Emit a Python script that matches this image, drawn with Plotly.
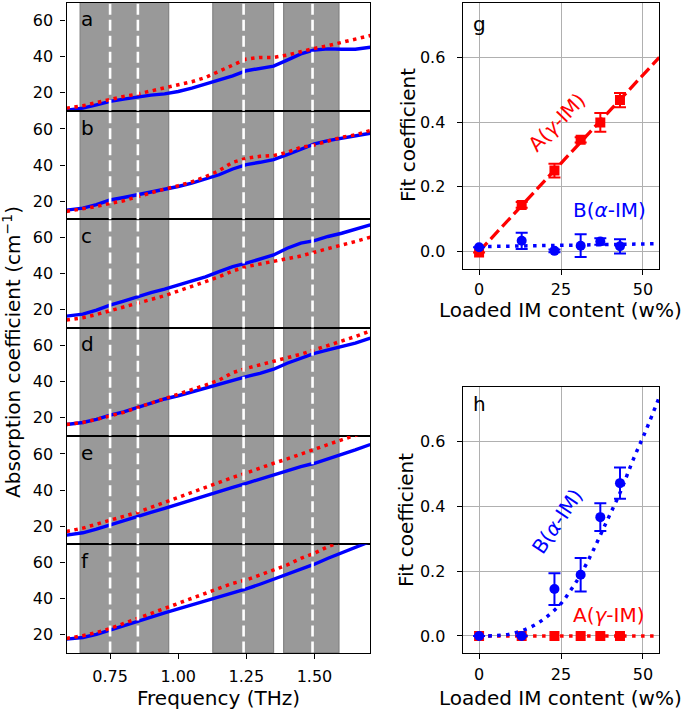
import plotly.graph_objects as go

W, H = 685, 710

# ---------------- data: left panels (absorption spectra) ----------------
freq = [0.59, 0.65, 0.70, 0.75, 0.80, 0.85, 0.90, 0.95, 1.00, 1.05, 1.10, 1.15,
        1.20, 1.25, 1.30, 1.35, 1.40, 1.45, 1.50, 1.55, 1.60, 1.65, 1.705]

a_meas = [10.4, 11.5, 13.3, 15.2, 16.5, 17.8, 18.7, 19.4, 20.7, 22.6, 24.8, 27.0,
          29.4, 32.2, 33.3, 34.8, 38.1, 41.5, 43.7, 44.3, 44.1, 44.1, 45.2]
a_model = [11.5, 12.8, 14.6, 16.5, 18.0, 19.3, 20.9, 22.6, 24.4, 26.1, 28.5, 31.9,
           35.4, 38.7, 39.6, 39.6, 40.9, 42.8, 44.6, 46.1, 48.0, 49.8, 51.7]
b_meas = [15.0, 16.1, 18.0, 20.6, 22.0, 23.5, 25.2, 26.7, 28.1, 30.0, 32.2, 34.6,
          37.8, 40.2, 41.5, 43.0, 45.7, 48.9, 51.7, 53.5, 54.8, 55.7, 57.6]
b_model = [14.3, 15.6, 17.0, 18.7, 20.2, 22.4, 24.8, 26.7, 28.5, 30.7, 33.5, 36.9,
           41.5, 43.7, 44.8, 45.2, 47.0, 49.8, 51.1, 53.5, 55.4, 56.7, 59.1]
c_meas = [16.3, 17.4, 19.6, 22.4, 24.6, 27.0, 29.3, 31.3, 33.5, 35.7, 38.1, 40.9,
          43.7, 45.6, 48.0, 50.2, 53.9, 56.7, 58.1, 60.4, 62.2, 64.4, 66.9]
c_model = [14.1, 15.4, 17.2, 19.3, 21.1, 23.3, 25.6, 27.6, 30.2, 32.6, 35.4, 38.1,
           41.3, 43.7, 45.2, 46.5, 48.3, 49.6, 51.7, 53.9, 55.7, 57.6, 60.0]
d_meas = [16.3, 17.4, 19.1, 21.5, 23.3, 25.7, 28.0, 30.4, 32.2, 34.4, 36.3, 38.5,
          40.9, 42.8, 44.6, 46.9, 50.2, 53.0, 55.7, 57.6, 59.4, 61.3, 64.1]
d_model = [16.3, 17.4, 19.1, 21.1, 23.0, 25.6, 28.0, 30.7, 32.9, 35.4, 38.1, 40.9,
           45.0, 47.4, 49.3, 51.1, 53.3, 55.2, 57.6, 60.0, 62.2, 65.0, 68.1]
e_meas = [15.0, 16.3, 18.3, 20.7, 23.0, 25.4, 27.6, 29.8, 32.2, 34.4, 36.9, 39.3,
          41.5, 43.7, 46.1, 48.5, 50.7, 53.0, 54.8, 57.2, 59.6, 62.2, 65.2]
e_model = [17.0, 18.9, 21.1, 23.0, 25.4, 27.6, 30.4, 32.8, 35.9, 38.7, 41.5, 44.3,
           47.0, 49.4, 52.2, 54.8, 57.2, 60.0, 62.8, 65.2, 67.8, 70.2, 73.0]
f_meas = [17.4, 18.3, 20.0, 22.4, 24.8, 27.4, 29.6, 32.0, 34.1, 36.3, 38.5, 40.9,
          43.1, 45.2, 47.8, 50.6, 53.3, 56.1, 58.9, 62.2, 65.0, 68.1, 71.5]
f_model = [17.8, 19.3, 21.1, 23.3, 26.1, 28.9, 31.7, 34.4, 37.6, 40.4, 43.1, 45.6,
           48.3, 50.2, 53.0, 55.7, 58.5, 62.2, 65.0, 68.7, 71.5, 74.3, 77.4]

panel_letters = ["a", "b", "c", "d", "e", "f"]
meas_series = [a_meas, b_meas, c_meas, d_meas, e_meas, f_meas]
model_series = [a_model, b_model, c_model, d_model, e_model, f_model]

band_starts = [0.64, 1.127, 1.387]
band_ends = [0.965, 1.35, 1.59]
mode_lines = [0.75, 0.852, 1.24, 1.493]

freq_ticks = [0.75, 1.00, 1.25, 1.50]
freq_ticktext = ["0.75", "1.00", "1.25", "1.50"]
abs_ticks = [20, 40, 60]

# ---------------- data: right panels (fit coefficients) ----------------
content = [0, 13, 23, 31, 37, 43]
g_A = [-0.003, 0.144, 0.250, 0.345, 0.399, 0.468]
g_A_err = [0.0, 0.009, 0.021, 0.008, 0.029, 0.022]
g_B = [0.013, 0.033, 0.002, 0.018, 0.031, 0.016]
g_B_err = [0.0, 0.025, 0.004, 0.035, 0.010, 0.022]
g_fit_x = [0, 55]
g_fit_A = [0.0, 0.60]
g_fit_B = [0.015, 0.024]

h_A = [0.0, 0.0, 0.0, 0.0, 0.0, 0.0]
h_B = [0.0, 0.0, 0.145, 0.189, 0.367, 0.472]
h_B_err = [0.0, 0.0, 0.049, 0.052, 0.043, 0.048]
h_fit_A_x = [0, 55]
h_fit_A = [0.0, 0.0]
h_fit_B_x = [0, 5, 9, 13, 17, 21, 25, 28, 31, 35, 39, 43, 47, 51, 55]
h_fit_B = [0.0, 0.001, 0.005, 0.016, 0.034, 0.062, 0.100, 0.142, 0.190, 0.268,
           0.355, 0.442, 0.544, 0.637, 0.738]

coef_ticks = [0.0, 0.2, 0.4, 0.6]
coef_ticktext = ["0.0", "0.2", "0.4", "0.6"]
content_ticks = [0, 25, 50]
content_ticktext = ["0", "25", "50"]

# ---------------- styling ----------------
FONT = "DejaVu Sans"
BLUE = "#0000ff"
RED = "#ff0000"
TICK_FONT = dict(family=FONT, size=16, color="black")
LBL_FONT = dict(family=FONT, size=20, color="black")


def px_x(x):
    return x / W


def px_y(y):
    return 1 - y / H


fig = go.Figure()
layout = dict(
    width=W, height=H, margin=dict(l=0, r=0, t=0, b=0),
    paper_bgcolor="white", plot_bgcolor="white", showlegend=False,
    font=dict(family=FONT, size=16, color="black"),
)

shapes = []
annotations = []

# right panels first (g -> axes 1, h -> axes 2)
R_X0, R_X1 = 462.7, 659.3
right_geo = {1: (3.0, 268.8), 2: (387.3, 653.3)}
for n, (top, bot) in right_geo.items():
    xk = "xaxis" if n == 1 else f"xaxis{n}"
    yk = "yaxis" if n == 1 else f"yaxis{n}"
    xa = "x" if n == 1 else f"x{n}"
    ya = "y" if n == 1 else f"y{n}"
    layout[xk] = dict(
        domain=[px_x(R_X0), px_x(R_X1)], anchor=ya, range=[-5, 55],
        tickvals=content_ticks, ticktext=content_ticktext, ticks="outside",
        ticklen=5, tickwidth=1.2, showticklabels=True,
        tickcolor="black", showline=True, mirror=True, linecolor="black",
        linewidth=1.3, showgrid=True, gridcolor="#b0b0b0", gridwidth=1,
        zeroline=False, tickfont=TICK_FONT, ticklabelstandoff=1,
    )
    layout[yk] = dict(
        domain=[px_y(bot), px_y(top)], anchor=xa, range=[-0.0535, 0.768],
        tickvals=coef_ticks, ticktext=coef_ticktext, ticks="outside",
        ticklen=5, tickwidth=1.2, tickcolor="black", showline=True,
        mirror=True, linecolor="black", linewidth=1.3, showgrid=True,
        gridcolor="#b0b0b0", gridwidth=1, zeroline=False, tickfont=TICK_FONT,
        ticklabelstandoff=8,
    )

# left panel geometry (pixels), axes 3..8
L_X0, L_X1 = 66.5, 370.3
L_TOP, L_BOT = 2.5, 652.5
ph = (L_BOT - L_TOP) / 6

for i in range(6):
    n = i + 3
    xa, ya = f"x{n}", f"y{n}"
    top = L_TOP + i * ph
    bot = top + ph
    layout[f"xaxis{n}"] = dict(
        domain=[px_x(L_X0), px_x(L_X1)], anchor=ya, range=[0.59, 1.705],
        tickvals=freq_ticks, ticktext=freq_ticktext,
        showticklabels=(i == 5), ticks="outside" if i == 5 else "",
        ticklen=5, tickwidth=1.2, tickcolor="black",
        showline=True, mirror=True, linecolor="black", linewidth=1.3,
        showgrid=False, zeroline=False, tickfont=TICK_FONT,
        ticklabelstandoff=4,
    )
    layout[f"yaxis{n}"] = dict(
        domain=[px_y(bot), px_y(top)], anchor=xa, range=[10, 70],
        tickvals=abs_ticks, ticks="outside", ticklen=5, tickwidth=1.2,
        tickcolor="black", showline=True, mirror=True, linecolor="black",
        linewidth=1.3, showgrid=False, zeroline=False, tickfont=TICK_FONT,
        ticklabelstandoff=4,
    )
    for s, e in zip(band_starts, band_ends):
        shapes.append(dict(type="rect", xref=xa, yref=f"{ya} domain",
                           x0=s, x1=e, y0=0, y1=1, fillcolor="#999999",
                           line=dict(color="#838383", width=1.2), layer="below"))
    for v in mode_lines:
        shapes.append(dict(type="line", xref=xa, yref=f"{ya} domain",
                           x0=v, x1=v, y0=0, y1=1,
                           line=dict(color="white", width=2.6, dash="11px,5px"),
                           layer="above"))
    fig.add_trace(go.Scatter(x=freq, y=meas_series[i], mode="lines",
                             line=dict(color=BLUE, width=3.4),
                             xaxis=xa, yaxis=ya, hoverinfo="skip"))
    fig.add_trace(go.Scatter(x=freq, y=model_series[i], mode="lines",
                             line=dict(color=RED, width=3.5, dash="3.5px,4.5px"),
                             xaxis=xa, yaxis=ya, hoverinfo="skip"))
    annotations.append(dict(text=panel_letters[i], xref=f"{xa} domain",
                            yref=f"{ya} domain", x=0.04, y=0.975,
                            xanchor="left", yanchor="top", showarrow=False,
                            font=LBL_FONT))

err_style = dict(type="data", visible=True, thickness=2, width=6)

# g
fig.add_trace(go.Scatter(x=g_fit_x, y=g_fit_A, mode="lines", xaxis="x", yaxis="y",
                         line=dict(color=RED, width=3.3, dash="12px,5px"), hoverinfo="skip"))
fig.add_trace(go.Scatter(x=content, y=g_A, mode="markers", xaxis="x", yaxis="y",
                         marker=dict(symbol="square", size=10, color=RED),
                         error_y=dict(array=g_A_err, color=RED, **err_style), hoverinfo="skip"))
fig.add_trace(go.Scatter(x=g_fit_x, y=g_fit_B, mode="lines", xaxis="x", yaxis="y",
                         line=dict(color=BLUE, width=3.5, dash="3.5px,5.5px"), hoverinfo="skip"))
fig.add_trace(go.Scatter(x=content, y=g_B, mode="markers", xaxis="x", yaxis="y",
                         marker=dict(symbol="circle", size=10, color=BLUE),
                         error_y=dict(array=g_B_err, color=BLUE, **err_style), hoverinfo="skip"))

# h
fig.add_trace(go.Scatter(x=h_fit_A_x, y=h_fit_A, mode="lines", xaxis="x2", yaxis="y2",
                         line=dict(color=RED, width=3.5, dash="3.5px,5.5px"), hoverinfo="skip"))
fig.add_trace(go.Scatter(x=content, y=h_A, mode="markers", xaxis="x2", yaxis="y2",
                         marker=dict(symbol="square", size=10, color=RED), hoverinfo="skip"))
fig.add_trace(go.Scatter(x=h_fit_B_x, y=h_fit_B, mode="lines", xaxis="x2", yaxis="y2",
                         line=dict(color=BLUE, width=3.5, dash="3.5px,5.5px", shape="spline"),
                         hoverinfo="skip"))
fig.add_trace(go.Scatter(x=content, y=h_B, mode="markers", xaxis="x2", yaxis="y2",
                         marker=dict(symbol="circle", size=10, color=BLUE),
                         error_y=dict(array=h_B_err, color=BLUE, **err_style), hoverinfo="skip"))

# panel letters g, h
annotations.append(dict(text="g", xref="x domain", yref="y domain", x=0.04, y=0.975,
                        xanchor="left", yanchor="top", showarrow=False, font=LBL_FONT))
annotations.append(dict(text="h", xref="x2 domain", yref="y2 domain", x=0.04, y=0.99,
                        xanchor="left", yanchor="top", showarrow=False, font=LBL_FONT))

# series labels
C = dict(xanchor="center", yanchor="middle", showarrow=False)
annotations.append(dict(text="A(<i>γ</i>-IM)", xref="x", yref="y", x=23.8, y=0.40,
                        textangle=-46, font=dict(family=FONT, size=20, color=RED), **C))
annotations.append(dict(text="B(<i>α</i>-IM)", xref="x", yref="y", x=39.7, y=0.127,
                        font=dict(family=FONT, size=20, color=BLUE), **C))
annotations.append(dict(text="B(<i>α</i>-IM)", xref="x2", yref="y2", x=24.0, y=0.354,
                        textangle=-56, font=dict(family=FONT, size=20, color=BLUE), **C))
annotations.append(dict(text="A(<i>γ</i>-IM)", xref="x2", yref="y2", x=39.7, y=0.065,
                        font=dict(family=FONT, size=20, color=RED), **C))

# axis titles
annotations.append(dict(text="Absorption coefficient (cm<sup>−1</sup>)", xref="paper", yref="paper",
                        x=px_x(12), y=px_y(352), textangle=-90, font=LBL_FONT, **C))
annotations.append(dict(text="Frequency (THz)", xref="paper", yref="paper",
                        x=px_x(218.4), y=px_y(697.5), font=LBL_FONT, **C))
annotations.append(dict(text="Fit coefficient", xref="paper", yref="paper",
                        x=px_x(408), y=px_y(135), textangle=-90, font=LBL_FONT, **C))
annotations.append(dict(text="Fit coefficient", xref="paper", yref="paper",
                        x=px_x(406), y=px_y(520), textangle=-90, font=LBL_FONT, **C))
annotations.append(dict(text="Loaded IM content (w%)", xref="paper", yref="paper",
                        x=px_x(560), y=px_y(310), font=LBL_FONT, **C))
annotations.append(dict(text="Loaded IM content (w%)", xref="paper", yref="paper",
                        x=px_x(560), y=px_y(698), font=LBL_FONT, **C))

layout["shapes"] = shapes
layout["annotations"] = annotations
fig.update_layout(**layout)
fig.write_html("out.html", config={"displayModeBar": False},
               post_script="document.body.style.margin='0';document.body.style.padding='0';")
